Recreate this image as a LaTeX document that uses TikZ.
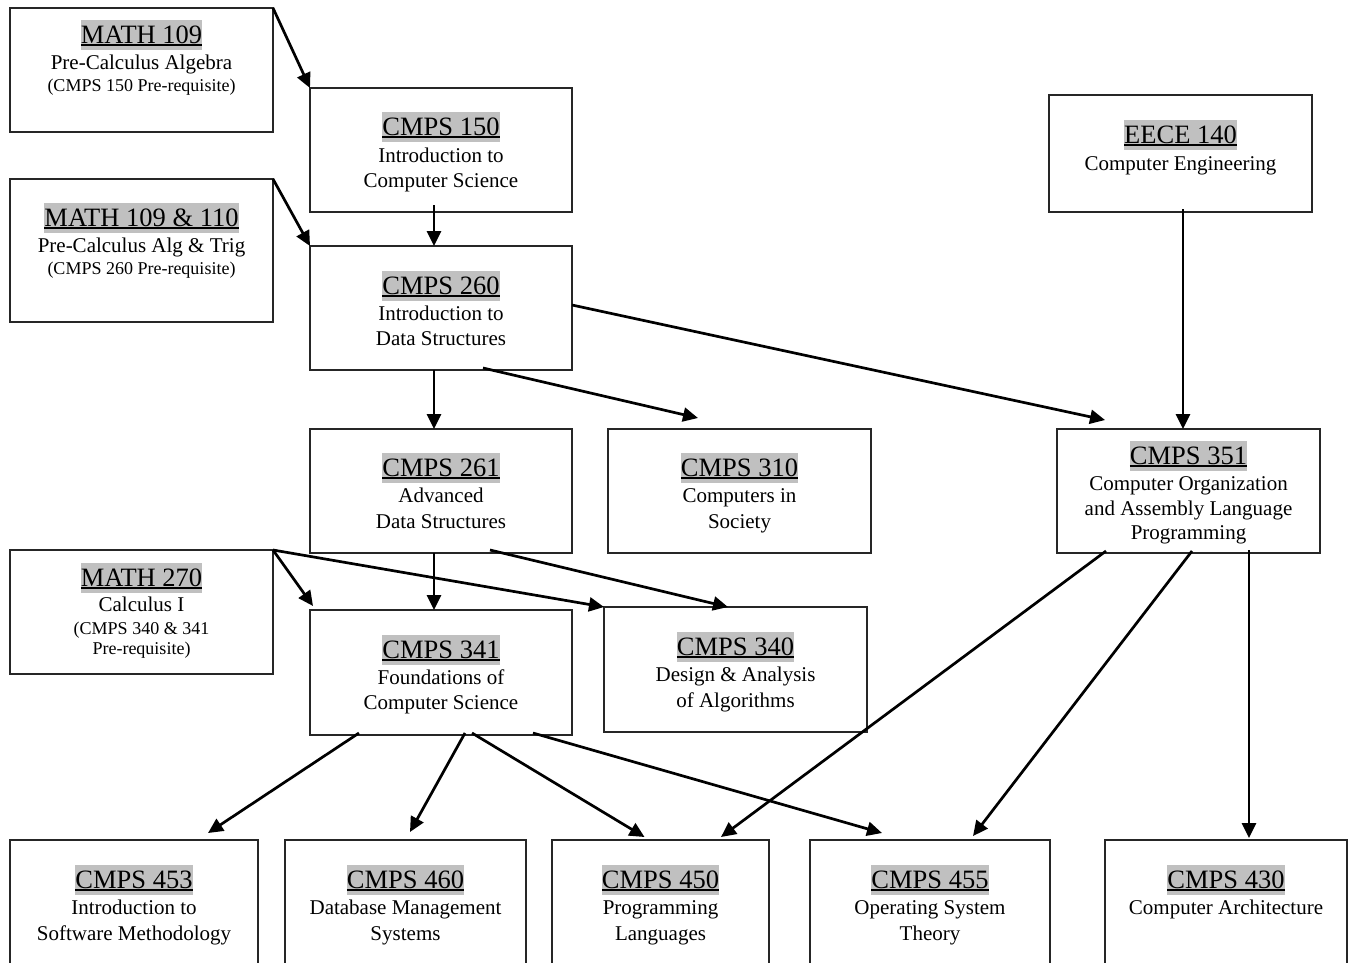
\documentclass[tikz,border=0pt]{standalone}
\usepackage{fontspec}
\setmainfont{Liberation Serif}
\usetikzlibrary{arrows.meta,calc}
\definecolor{hl}{RGB}{192,192,192}
\newcommand\ulx[1]{\setbox0\hbox{#1}\rlap{\rule[-2.8pt]{\wd0}{2.1pt}}\box0}
\newcommand\cbx[6]{\node[box,minimum width=#4pt,minimum height=#5pt,anchor=north west] (#1) at (#2,#3) {};}
\newcommand\ctitle[3]{\node[ttl] at ([yshift=-#2pt]#1.north) {\ulx{#3}};}
\newcommand\cbody[3]{\node[bodytxt] at ([yshift=-#2pt]#1.north) {#3};}
\newcommand\csmall[3]{\node[smalltxt] at ([yshift=-#2pt]#1.north) {#3};}
\tikzset{
  box/.style={draw=black!85,line width=1.1pt,inner sep=0pt,outer sep=0pt,fill=white},
  ttl/.style={anchor=base,inner sep=0pt,fill=hl,text height=23.5pt,text depth=6.6pt,font=\fontsize{26.5}{30}\selectfont},
  bodytxt/.style={anchor=base,inner sep=0pt,font=\fontsize{21}{25}\selectfont},
  smalltxt/.style={anchor=base,inner sep=0pt,font=\fontsize{18}{20}\selectfont},
  arr/.style={line width=2.7pt,-{Triangle[length=15pt,width=14pt]}}
}
\begin{document}
\begin{tikzpicture}[x=1pt,y=-1pt]
\fill[white] (0,0) rectangle (1351,962);
\useasboundingbox (0,0) rectangle (1351,962);
% boxes
\cbx{m109}{10}{8}{263}{124}{}
\cbx{c150}{310}{88}{262}{124}{}
\cbx{e140}{1049}{95}{263}{117}{}
\cbx{m110}{10}{179}{263}{143}{}
\cbx{c260}{310}{246}{262}{124}{}
\cbx{c261}{310}{429}{262}{124}{}
\cbx{c310}{608}{429}{263}{124}{}
\cbx{c351}{1057}{429}{263}{124}{}
\cbx{m270}{10}{550}{263}{124}{}
\cbx{c341}{310}{610}{262}{125}{}
\cbx{c340}{604}{607}{263}{125}{}
\cbx{c453}{10}{840}{248}{140}{}
\cbx{c460}{285}{840}{241}{140}{}
\cbx{c450}{552}{840}{217}{140}{}
\cbx{c455}{810}{840}{240}{140}{}
\cbx{c430}{1105}{840}{242}{140}{}
% texts
\ctitle{m109}{35}{MATH 109}
\cbody{m109}{61}{Pre-Calculus Algebra}
\csmall{m109}{83.5}{(CMPS 150 Pre-requisite)}
\ctitle{c150}{47}{CMPS 150}
\cbody{c150}{74}{Introduction to}
\cbody{c150}{99}{Computer Science}
\ctitle{e140}{48}{EECE 140}
\cbody{e140}{75}{Computer Engineering}
\ctitle{m110}{47}{MATH 109 \& 110}
\cbody{m110}{73}{Pre-Calculus Alg \& Trig}
\csmall{m110}{95.5}{(CMPS 260 Pre-requisite)}
\ctitle{c260}{48}{CMPS 260}
\cbody{c260}{74}{Introduction to}
\cbody{c260}{99}{Data Structures}
\ctitle{c261}{47}{CMPS 261}
\cbody{c261}{73}{Advanced}
\cbody{c261}{99}{Data Structures}
\ctitle{c310}{47}{CMPS 310}
\cbody{c310}{73}{Computers in}
\cbody{c310}{99}{Society}
\ctitle{c351}{35}{CMPS 351}
\cbody{c351}{61}{Computer Organization}
\cbody{c351}{86}{and Assembly Language}
\cbody{c351}{110}{Programming}
\ctitle{m270}{36}{MATH 270}
\cbody{m270}{61}{Calculus I}
\csmall{m270}{84.5}{(CMPS 340 \& 341}
\csmall{m270}{104.5}{Pre-requisite)}
\ctitle{c341}{48}{CMPS 341}
\cbody{c341}{74}{Foundations of}
\cbody{c341}{99}{Computer Science}
\ctitle{c340}{48}{CMPS 340}
\cbody{c340}{74}{Design \& Analysis}
\cbody{c340}{100}{of Algorithms}
\ctitle{c453}{48}{CMPS 453}
\cbody{c453}{74}{Introduction to}
\cbody{c453}{100}{Software Methodology}
\ctitle{c460}{48}{CMPS 460}
\cbody{c460}{74}{Database Management}
\cbody{c460}{100}{Systems}
\ctitle{c450}{48}{CMPS 450}
\cbody{c450}{74}{Programming}
\cbody{c450}{100}{Languages}
\ctitle{c455}{48}{CMPS 455}
\cbody{c455}{74}{Operating System}
\cbody{c455}{100}{Theory}
\ctitle{c430}{48}{CMPS 430}
\cbody{c430}{74}{Computer Architecture}
% arrows
\draw[arr] (m109.north east) -- (c150.north west);
\draw[arr] ([shift={(-7,-7)}]c150.south) -- ([shift={(-7,0)}]c260.north);
\draw[arr] (m110.north east) -- (c260.north west);
\draw[arr] ([shift={(-7,0)}]c260.south) -- ([shift={(-7,0)}]c261.north);
\draw[arr] ([shift={(42,-2)}]c260.south) -- ([shift={(-41.5,-11)}]c310.north);
\draw[arr] ([shift={(0,-3)}]c260.east) -- ([shift={(-83.5,-9)}]c351.north);
\draw[arr] ([shift={(2.5,-3)}]e140.south) -- ([shift={(-5.5,0)}]c351.north);
\draw[arr] ([shift={(-7,0)}]c261.south) -- ([shift={(-7,0)}]c341.north);
\draw[arr] ([shift={(49,-3)}]c261.south) -- ([shift={(-7.5,0)}]c340.north);
\draw[arr] (m270.north east) -- ([shift={(3,-4)}]c341.north west);
\draw[arr] (m270.north east) -- (c340.north west);
\draw[arr] ([shift={(-82,-2)}]c341.south) -- ([shift={(74,-7)}]c453.north);
\draw[arr] ([shift={(24,-2)}]c341.south) -- ([shift={(4.5,-8)}]c460.north);
\draw[arr] ([shift={(31,-2)}]c341.south) -- ([shift={(-16,-3)}]c450.north);
\draw[arr] ([shift={(92,-2)}]c341.south) -- ([shift={(-48,-7)}]c455.north);
\draw[arr] ([shift={(-82.5,-2)}]c351.south) -- ([shift={(60.5,-3)}]c450.north);
\draw[arr] ([shift={(3.5,-2)}]c351.south) -- ([shift={(43,-4)}]c455.north);
\draw[arr] ([shift={(60.5,-3)}]c351.south) -- ([shift={(23,-2)}]c430.north);
\end{tikzpicture}
\end{document}
